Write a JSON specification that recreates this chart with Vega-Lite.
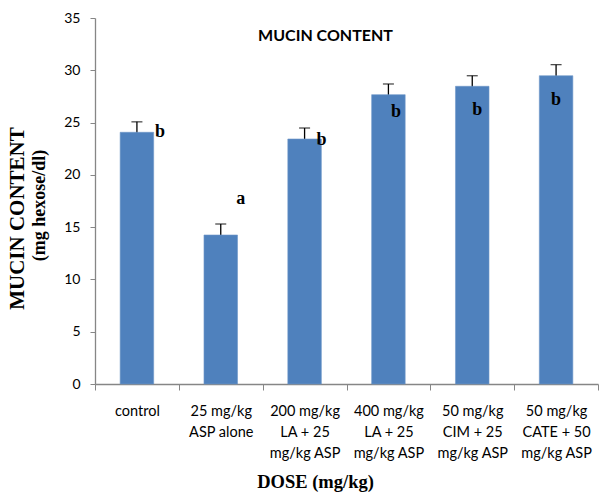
{
  "$schema": "https://vega.github.io/schema/vega-lite/v6.json",
  "width": 503,
  "height": 366,
  "autosize": {"type": "none"},
  "padding": {"left": 95, "top": 18, "right": 1, "bottom": 109},
  "background": "white",
  "title": {
    "text": "MUCIN CONTENT",
    "font": "Lato",
    "fontSize": 16,
    "fontWeight": "bold",
    "color": "black",
    "anchor": "middle",
    "dx": -21,
    "dy": 41,
    "offset": 0,
    "baseline": "middle"
  },
  "data": {
    "values": [
      {"dose": "control", "mean": 24.07, "err": 1.0, "letter": "b"},
      {"dose": "25 mg/kg ASP alone", "mean": 14.25, "err": 1.05, "letter": "a"},
      {"dose": "200 mg/kg LA + 25 mg/kg ASP", "mean": 23.43, "err": 1.05, "letter": "b"},
      {"dose": "400 mg/kg LA + 25 mg/kg ASP", "mean": 27.67, "err": 1.02, "letter": "b"},
      {"dose": "50 mg/kg CIM + 25 mg/kg ASP", "mean": 28.47, "err": 1.01, "letter": "b"},
      {"dose": "50 mg/kg CATE + 50 mg/kg ASP", "mean": 29.48, "err": 1.06, "letter": "b"}
    ]
  },
  "encoding": {
    "x": {
      "field": "dose",
      "type": "nominal",
      "sort": null,
      "scale": {"paddingInner": 0, "paddingOuter": 0},
      "axis": {
        "title": "DOSE (mg/kg)",
        "titleFont": "Liberation Serif",
        "titleFontSize": 18.5,
        "titleFontWeight": "bold",
        "titleColor": "black",
        "titleX": 220,
        "titleY": 97,
        "titleAlign": "center",
        "titleBaseline": "middle",
        "labelAngle": 0,
        "labelFont": "Lato",
        "labelFontSize": 14.5,
        "labelColor": "black",
        "labelLineHeight": 21,
        "labelPadding": 14,
        "labelLimit": 0,
        "labelExpr": "datum.label == 'control' ? ['control'] : datum.label == '25 mg/kg ASP alone' ? ['25 mg/kg', 'ASP alone'] : datum.label == '200 mg/kg LA + 25 mg/kg ASP' ? ['200 mg/kg', 'LA + 25', 'mg/kg ASP'] : datum.label == '400 mg/kg LA + 25 mg/kg ASP' ? ['400 mg/kg', 'LA + 25', 'mg/kg ASP'] : datum.label == '50 mg/kg CIM + 25 mg/kg ASP' ? ['50 mg/kg', 'CIM + 25', 'mg/kg ASP'] : datum.label == '50 mg/kg CATE + 50 mg/kg ASP' ? ['50 mg/kg', 'CATE + 50', 'mg/kg ASP'] : ''",
        "tickBand": "extent",
        "tickSize": 6,
        "tickColor": "#868686",
        "domainColor": "#868686",
        "domainWidth": 1.3,
        "grid": false
      }
    }
  },
  "layer": [
    {
      "mark": {
        "type": "errorbar",
        "ticks": {"size": 11, "color": "black", "thickness": 1.3},
        "rule": {"color": "black", "strokeWidth": 1.3}
      },
      "encoding": {
        "y": {
          "field": "mean",
          "type": "quantitative",
          "scale": {"domain": [0, 35], "nice": false},
          "axis": {
            "title": "MUCIN CONTENT",
            "titleFont": "Liberation Serif",
            "titleFontSize": 21,
            "titleFontWeight": "bold",
            "titleColor": "black",
            "titleAngle": -90,
            "titleX": -78,
            "titleY": 200,
            "titleAlign": "center",
            "titleBaseline": "middle",
            "values": [0, 5, 10, 15, 20, 25, 30, 35],
            "labelFont": "Lato",
            "labelFontSize": 14,
            "labelColor": "black",
            "labelPadding": 10,
            "tickSize": 5,
            "tickColor": "#868686",
            "domainColor": "#868686",
            "domainWidth": 1.3,
            "grid": false
          }
        },
        "yError": {"field": "err"}
      }
    },
    {
      "mark": {"type": "bar", "color": "#4F81BD", "stroke": "#6E97C8", "strokeWidth": 0.6, "width": {"band": 0.4}},
      "encoding": {
        "y": {"field": "mean", "type": "quantitative", "axis": null}
      }
    },
    {
      "transform": [{"filter": "datum.dose == 'control'"}],
      "mark": {"type": "text", "font": "Liberation Serif", "fontSize": 18, "fontWeight": "bold", "color": "black", "baseline": "alphabetic", "dx": 23, "dy": 5},
      "encoding": {
        "y": {
          "field": "mean",
          "type": "quantitative",
          "axis": {
            "orient": "right",
            "title": "(mg hexose/dl)",
            "titleFont": "Liberation Serif",
            "titleFontSize": 18,
            "titleFontWeight": "bold",
            "titleColor": "black",
            "titleAngle": -90,
            "titleX": -559,
            "titleY": 187,
            "titleAlign": "center",
            "titleBaseline": "middle",
            "labels": false,
            "ticks": false,
            "domain": false,
            "grid": false
          }
        },
        "text": {"field": "letter"}
      }
    },
    {
      "transform": [{"filter": "datum.dose == '25 mg/kg ASP alone'"}],
      "mark": {"type": "text", "font": "Liberation Serif", "fontSize": 18, "fontWeight": "bold", "color": "black", "baseline": "alphabetic", "dx": 20, "dy": -31},
      "encoding": {"y": {"field": "mean", "type": "quantitative", "axis": null}, "text": {"field": "letter"}}
    },
    {
      "transform": [{"filter": "datum.dose == '200 mg/kg LA + 25 mg/kg ASP'"}],
      "mark": {"type": "text", "font": "Liberation Serif", "fontSize": 18, "fontWeight": "bold", "color": "black", "baseline": "alphabetic", "dx": 17, "dy": 6},
      "encoding": {"y": {"field": "mean", "type": "quantitative", "axis": null}, "text": {"field": "letter"}}
    },
    {
      "transform": [{"filter": "datum.dose == '400 mg/kg LA + 25 mg/kg ASP'"}],
      "mark": {"type": "text", "font": "Liberation Serif", "fontSize": 18, "fontWeight": "bold", "color": "black", "baseline": "alphabetic", "dx": 7.5, "dy": 22},
      "encoding": {"y": {"field": "mean", "type": "quantitative", "axis": null}, "text": {"field": "letter"}}
    },
    {
      "transform": [{"filter": "datum.dose == '50 mg/kg CIM + 25 mg/kg ASP'"}],
      "mark": {"type": "text", "font": "Liberation Serif", "fontSize": 18, "fontWeight": "bold", "color": "black", "baseline": "alphabetic", "dx": 5, "dy": 29},
      "encoding": {"y": {"field": "mean", "type": "quantitative", "axis": null}, "text": {"field": "letter"}}
    },
    {
      "transform": [{"filter": "datum.dose == '50 mg/kg CATE + 50 mg/kg ASP'"}],
      "mark": {"type": "text", "font": "Liberation Serif", "fontSize": 18, "fontWeight": "bold", "color": "black", "baseline": "alphabetic", "dx": 0, "dy": 29},
      "encoding": {"y": {"field": "mean", "type": "quantitative", "axis": null}, "text": {"field": "letter"}}
    }
  ],
  "resolve": {"axis": {"y": "independent"}},
  "config": {
    "view": {"stroke": null}
  }
}
